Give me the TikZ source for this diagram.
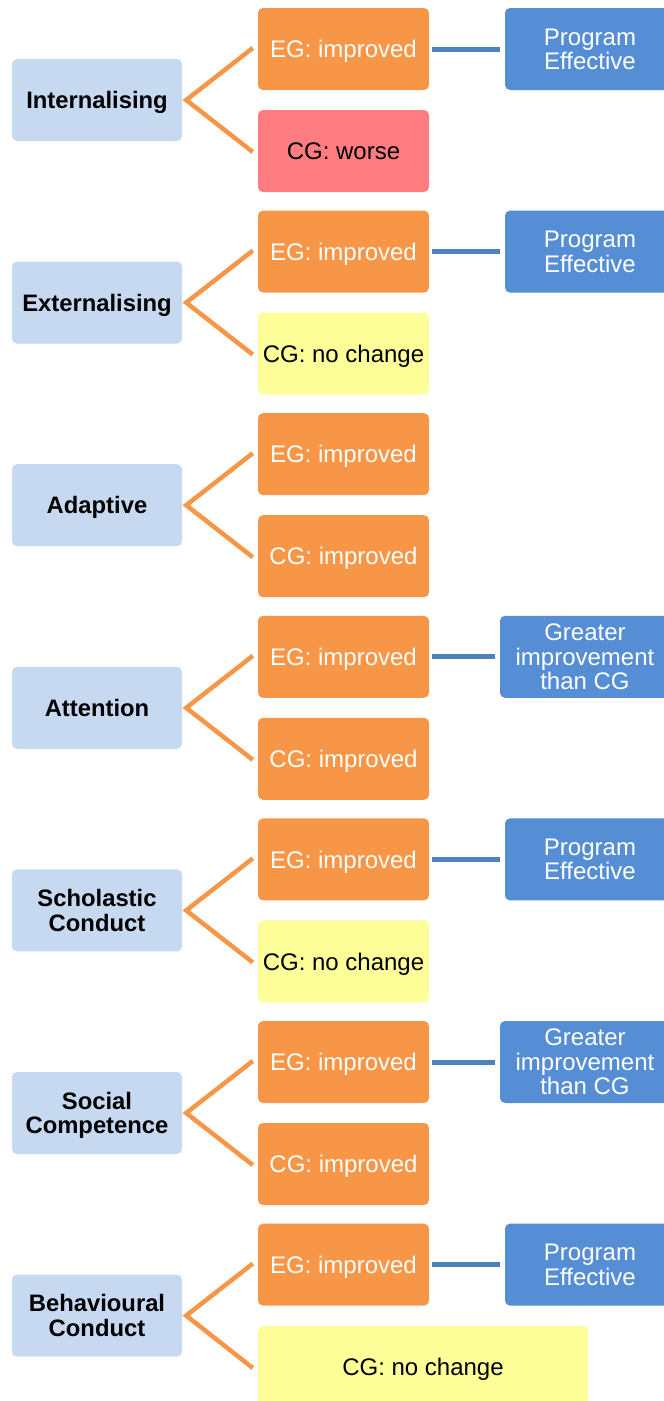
\documentclass[tikz,border=0pt]{standalone}
\usepackage{fontspec}
\setmainfont{Liberation Sans}
\definecolor{catblue}{HTML}{C6D9F1}
\definecolor{egorange}{HTML}{F79646}
\definecolor{worsered}{HTML}{FF7C80}
\definecolor{nochange}{HTML}{FFFF99}
\definecolor{resblue}{HTML}{558ED5}
\definecolor{linkblue}{HTML}{4F81BD}
\tikzset{
  box/.style={rounded corners=5pt, minimum height=82pt, inner sep=2pt, align=center,
              text depth=0pt, font=\fontsize{24}{24.5}\selectfont},
  cat/.style={box, fill=catblue, minimum width=170pt, font=\bfseries\fontsize{23.8}{24.5}\selectfont},
  eg/.style={box, fill=egorange, text=white, minimum width=171pt},
  cgimp/.style={box, fill=egorange, text=white, minimum width=171pt},
  cgworse/.style={box, fill=worsered, text=black, minimum width=171pt},
  cgsame/.style={box, fill=nochange, text=black, minimum width=171pt},
  result/.style={box, fill=resblue, text=white, minimum width=170pt},
  branch/.style={draw=egorange, line width=4.5pt, line join=miter},
  link/.style={draw=linkblue, line width=5pt},
}
\begin{document}
\begin{tikzpicture}[x=1pt, y=-1pt]
\useasboundingbox (0,0) rectangle (664,1401);
\clip (0,0) rectangle (664,1401);

% Internalising
\node[cat]    (L1) at (97,100)     {Internalising};
\node[eg]     (E1) at (343.5,49)   {EG: improved};
\node[cgworse](C1) at (343.5,151)  {CG: worse};
\node[result] (R1) at (590,49)     {Program\\Effective};

% Externalising
\node[cat]    (L2) at (97,302.6)   {Externalising};
\node[eg]     (E2) at (343.5,251.6){EG: improved};
\node[cgsame] (C2) at (343.5,353.6){CG: no change};
\node[result] (R2) at (590,251.6)  {Program\\Effective};

% Adaptive
\node[cat]    (L3) at (97,505.2)   {Adaptive};
\node[eg]     (E3) at (343.5,454.2){EG: improved};
\node[cgimp]  (C3) at (343.5,556.2){CG: improved};

% Attention
\node[cat]    (L4) at (97,707.8)   {Attention};
\node[eg]     (E4) at (343.5,656.8){EG: improved};
\node[cgimp]  (C4) at (343.5,758.8){CG: improved};
\node[result] (R4) at (585,656.8)  {Greater\\improvement\\than CG};

% Scholastic Conduct
\node[cat]    (L5) at (97,910.4)   {Scholastic\\Conduct};
\node[eg]     (E5) at (343.5,859.4){EG: improved};
\node[cgsame] (C5) at (343.5,961.4){CG: no change};
\node[result] (R5) at (590,859.4)  {Program\\Effective};

% Social Competence
\node[cat]    (L6) at (97,1113)    {Social\\Competence};
\node[eg]     (E6) at (343.5,1062) {EG: improved};
\node[cgimp]  (C6) at (343.5,1164) {CG: improved};
\node[result] (R6) at (585,1062)   {Greater\\improvement\\than CG};

% Behavioural Conduct
\node[cat]    (L7) at (97,1315.6)  {Behavioural\\Conduct};
\node[eg]     (E7) at (343.5,1264.6){EG: improved};
\node[cgsame, minimum width=330pt] (C7) at (423,1367) {CG: no change};
\node[result] (R7) at (590,1264.6) {Program\\Effective};

% orange branches from each category to its two group outcomes
\foreach \i in {1,...,7}{
  \path[branch] ([xshift=-5pt,yshift=1pt]E\i.west) -- ([xshift=4pt]L\i.east)
                -- ([xshift=-5pt,yshift=-1pt]C\i.west);
}

% blue links to the conclusions
\foreach \i in {1,2,4,5,6,7}{
  \path[link] ([xshift=3pt]E\i.east) -- ([xshift=-5pt]R\i.west);
}
\end{tikzpicture}
\end{document}
